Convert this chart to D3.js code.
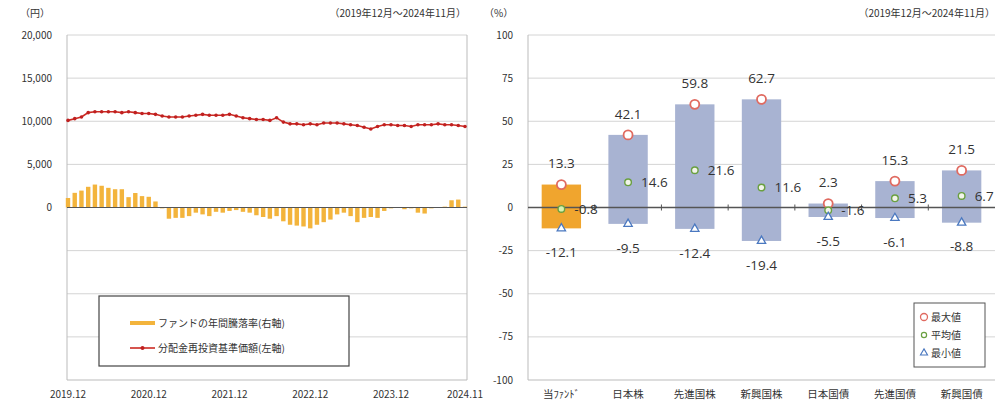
<!DOCTYPE html>
<html>
<head>
<meta charset="utf-8">
<script src="https://cdn.jsdelivr.net/npm/d3@7"></script>
<style>
  body { margin: 0; background: #fff; }
  svg text { font-family: "Noto Sans CJK JP", "Noto Sans", sans-serif; fill: #333; }
</style>
</head>
<body>
<svg id="chart" width="996" height="408"></svg>
<script>
// left chart: NAV (yen, left axis) and annual return (% , hidden right axis)
const navValues = [
  10100, 10300, 10500, 11000, 11100, 11100, 11100, 11100, 11000, 11100,
  11000, 10900, 10900, 10800, 10600, 10500, 10500, 10500, 10600, 10700,
  10800, 10700, 10700, 10700, 10800, 10600, 10400, 10300, 10200, 10200,
  10100, 10400, 9900, 9700, 9700, 9600, 9700, 9600, 9800, 9800,
  9800, 9700, 9600, 9500, 9300, 9100, 9400, 9600, 9600, 9500,
  9500, 9400, 9600, 9600, 9600, 9700, 9600, 9600, 9500, 9400
];
const annualReturn = [
  5.5, 8.5, 9.8, 12.0, 13.3, 12.6, 11.4, 10.6, 10.6, 6.0,
  8.4, 6.6, 6.2, 3.5, -0.5, -6.5, -6.0, -6.0, -5.0, -3.0,
  -4.0, -5.0, -2.5, -3.0, -2.0, -1.5, -2.5, -3.0, -4.5, -5.5,
  -6.5, -5.0, -8.0, -10.0, -10.5, -11.0, -12.1, -10.0, -8.5, -7.0,
  -4.0, -3.0, -5.0, -8.5, -6.0, -5.5, -6.0, -2.0, -0.5, 0.3,
  -1.0, -0.5, -3.0, -3.5, -0.5, 0.2, 0.5, 4.2, 4.6, 0.5
];
const monthLabels = ["2019.12", "2020.12", "2021.12", "2022.12", "2023.12", "2024.11"];
const navTicks = [-20000, -15000, -10000, -5000, 0, 5000, 10000, 15000, 20000];

// right chart: range of annual returns by asset class
const assetClasses = ["当ﾌｧﾝﾄﾞ", "日本株", "先進国株", "新興国株", "日本国債", "先進国債", "新興国債"];
const maxValues = [13.3, 42.1, 59.8, 62.7, 2.3, 15.3, 21.5];
const meanValues = [-0.8, 14.6, 21.6, 11.6, -1.6, 5.3, 6.7];
const minValues = [-12.1, -9.5, -12.4, -19.4, -5.5, -6.1, -8.8];
const pctTicks = [-100, -75, -50, -25, 0, 25, 50, 75, 100];

const svg = d3.select("#chart");
const gridColor = "#d4d4d4";

const months = d3.timeMonth.range(new Date(2019, 11, 1), new Date(2024, 11, 1));
const fmtMonth = d3.timeFormat("%Y.%m");

// ---------- left chart ----------
const xL = d3.scalePoint().domain(months).range([68, 465]);
const yNav = d3.scaleLinear().domain([-20000, 20000]).range([380, 35]);
const yRet = d3.scaleLinear().domain([-100, 100]).range([380, 35]);

const left = svg.append("g");

left.selectAll("line.grid")
  .data(navTicks)
  .join("line")
  .attr("class", "grid")
  .attr("x1", 67).attr("x2", 467)
  .attr("y1", d => yNav(d)).attr("y2", d => yNav(d))
  .attr("stroke", d => d === -20000 ? "#bbb" : gridColor);

left.append("line")
  .attr("x1", 67).attr("x2", 67).attr("y1", yNav(20000)).attr("y2", yNav(-20000))
  .attr("stroke", "#bbb");
left.append("line")
  .attr("x1", 467).attr("x2", 467).attr("y1", yNav(20000)).attr("y2", yNav(-20000))
  .attr("stroke", "#bbb");

left.selectAll("text.ytick")
  .data(navTicks.filter(d => d >= 0))
  .join("text")
  .attr("class", "ytick")
  .attr("x", 52).attr("y", d => yNav(d))
  .attr("dy", "0.35em")
  .attr("text-anchor", "end")
  .attr("font-size", 10)
  .text(d3.format(","));

// bars (right axis, hidden)
left.selectAll("rect.ret")
  .data(annualReturn)
  .join("rect")
  .attr("class", "ret")
  .attr("x", (d, i) => xL(months[i]) - 2.2)
  .attr("width", 4.4)
  .attr("y", d => yRet(Math.max(0, d)))
  .attr("height", d => Math.abs(yRet(d) - yRet(0)))
  .attr("fill", "#F3B43C");

left.append("line")
  .attr("x1", 67).attr("x2", 467)
  .attr("y1", yNav(0)).attr("y2", yNav(0))
  .attr("stroke", "#555").attr("stroke-width", 1.2);

const navLine = d3.line()
  .x((d, i) => xL(months[i]))
  .y(d => yNav(d));
left.append("path")
  .datum(navValues)
  .attr("d", navLine)
  .attr("fill", "none")
  .attr("stroke", "#CC2A22")
  .attr("stroke-width", 1.6);
left.selectAll("circle.nav")
  .data(navValues)
  .join("circle")
  .attr("class", "nav")
  .attr("cx", (d, i) => xL(months[i]))
  .attr("cy", d => yNav(d))
  .attr("r", 1.8)
  .attr("fill", "#C02020");

left.selectAll("text.xtick")
  .data(monthLabels)
  .join("text")
  .attr("class", "xtick")
  .attr("x", d => xL(months.find(m => fmtMonth(m) === d)))
  .attr("y", 398)
  .attr("text-anchor", "middle")
  .attr("font-size", 10)
  .text(d => d);

left.append("text").attr("x", 20).attr("y", 17).attr("font-size", 10).text("（円）");
left.append("text").attr("x", 466).attr("y", 17).attr("font-size", 10)
  .attr("text-anchor", "end").text("（2019年12月～2024年11月）");

// left legend
const legL = left.append("g");
legL.append("rect")
  .attr("x", 99).attr("y", 296).attr("width", 250).attr("height", 70)
  .attr("fill", "#fff").attr("stroke", "#444").attr("stroke-width", 1.2);
legL.append("rect")
  .attr("x", 130).attr("y", 321).attr("width", 25).attr("height", 4)
  .attr("fill", "#F3B43C");
legL.append("text").attr("x", 158).attr("y", 323).attr("dy", "0.35em")
  .attr("font-size", 10).text("ファンドの年間騰落率(右軸)");
legL.append("line")
  .attr("x1", 130).attr("x2", 155).attr("y1", 348).attr("y2", 348)
  .attr("stroke", "#CC2A22").attr("stroke-width", 1.6);
legL.append("circle").attr("cx", 142.5).attr("cy", 348).attr("r", 2).attr("fill", "#C02020");
legL.append("text").attr("x", 158).attr("y", 348).attr("dy", "0.35em")
  .attr("font-size", 10).text("分配金再投資基準価額(左軸)");

// ---------- right chart ----------
const xR = d3.scaleBand().domain(assetClasses).range([528, 995]).paddingInner(0.41).paddingOuter(0.205);
const yP = d3.scaleLinear().domain([-100, 100]).range([380, 35]);

const right = svg.append("g");

right.selectAll("line.grid")
  .data(pctTicks.filter(d => d !== 0))
  .join("line")
  .attr("class", "grid")
  .attr("x1", 528).attr("x2", 995)
  .attr("y1", d => yP(d)).attr("y2", d => yP(d))
  .attr("stroke", d => d === -100 ? "#bbb" : gridColor);
right.append("line")
  .attr("x1", 528).attr("x2", 528).attr("y1", yP(100)).attr("y2", yP(-100))
  .attr("stroke", "#bbb");

right.selectAll("text.ytick")
  .data(pctTicks)
  .join("text")
  .attr("class", "ytick")
  .attr("x", 513).attr("y", d => yP(d))
  .attr("dy", "0.35em")
  .attr("text-anchor", "end")
  .attr("font-size", 10)
  .text(d => d);

right.selectAll("rect.range")
  .data(assetClasses)
  .join("rect")
  .attr("class", "range")
  .attr("x", d => xR(d))
  .attr("width", xR.bandwidth())
  .attr("y", (d, i) => yP(maxValues[i]))
  .attr("height", (d, i) => yP(minValues[i]) - yP(maxValues[i]))
  .attr("fill", (d, i) => i === 0 ? "#F0A52E" : "#A8B3D2");

// zero axis with category tick marks
right.append("line")
  .attr("x1", 528).attr("x2", 995)
  .attr("y1", yP(0)).attr("y2", yP(0))
  .attr("stroke", "#555").attr("stroke-width", 1.4);
const step = xR.step();
right.selectAll("line.ctick")
  .data(assetClasses.slice(1))
  .join("line")
  .attr("class", "ctick")
  .attr("x1", d => xR(d) - (step - xR.bandwidth()) / 2)
  .attr("x2", d => xR(d) - (step - xR.bandwidth()) / 2)
  .attr("y1", yP(0) - 3).attr("y2", yP(0) + 3)
  .attr("stroke", "#555");

const cx = d => xR(d) + xR.bandwidth() / 2;

// markers
right.selectAll("circle.max")
  .data(assetClasses)
  .join("circle")
  .attr("class", "max")
  .attr("cx", cx)
  .attr("cy", (d, i) => yP(maxValues[i]))
  .attr("r", 4.5)
  .attr("fill", "#fff")
  .attr("stroke", "#E06A60")
  .attr("stroke-width", 1.8);
right.selectAll("circle.mean")
  .data(assetClasses)
  .join("circle")
  .attr("class", "mean")
  .attr("cx", cx)
  .attr("cy", (d, i) => yP(meanValues[i]))
  .attr("r", 3.3)
  .attr("fill", (d, i) => i === 0 ? "#d8f0b0" : "#f2f4ea")
  .attr("stroke", "#6AA040")
  .attr("stroke-width", 1.4);
const tri = d3.symbol().type(d3.symbolTriangle).size(30);
right.selectAll("path.min")
  .data(assetClasses)
  .join("path")
  .attr("class", "min")
  .attr("transform", (d, i) => `translate(${cx(d)},${yP(minValues[i])})`)
  .attr("d", tri)
  .attr("fill", "#fff")
  .attr("stroke", "#4A78C0")
  .attr("stroke-width", 1.3);

// value labels
const lblFont = "'Open Sans', 'Noto Sans', sans-serif";
right.selectAll("text.maxl")
  .data(assetClasses)
  .join("text")
  .attr("class", "maxl")
  .attr("x", cx)
  .attr("y", (d, i) => yP(maxValues[i]) - 21)
  .attr("dy", "0.35em")
  .attr("text-anchor", "middle")
  .attr("font-size", 13.5)
  .style("font-family", lblFont)
  .text((d, i) => maxValues[i].toFixed(1));
right.selectAll("text.meanl")
  .data(assetClasses)
  .join("text")
  .attr("class", "meanl")
  .attr("x", d => cx(d) + 13)
  .attr("y", (d, i) => yP(meanValues[i]))
  .attr("dy", "0.35em")
  .attr("font-size", 13.5)
  .style("font-family", lblFont)
  .text((d, i) => meanValues[i].toFixed(1));
right.selectAll("text.minl")
  .data(assetClasses)
  .join("text")
  .attr("class", "minl")
  .attr("x", cx)
  .attr("y", (d, i) => yP(minValues[i]) + 24)
  .attr("dy", "0.35em")
  .attr("text-anchor", "middle")
  .attr("font-size", 13.5)
  .style("font-family", lblFont)
  .text((d, i) => minValues[i].toFixed(1));

right.selectAll("text.xtick")
  .data(assetClasses)
  .join("text")
  .attr("class", "xtick")
  .attr("x", cx)
  .attr("y", 398)
  .attr("text-anchor", "middle")
  .attr("font-size", 10.5)
  .text(d => d);

right.append("text").attr("x", 484).attr("y", 17).attr("font-size", 10).text("（%）");
right.append("text").attr("x", 995).attr("y", 17).attr("font-size", 10)
  .attr("text-anchor", "end").text("（2019年12月～2024年11月）");

// right legend
const legR = right.append("g");
legR.append("rect")
  .attr("x", 914).attr("y", 303).attr("width", 71).attr("height", 64)
  .attr("fill", "#fff").attr("stroke", "#555").attr("stroke-width", 1);
legR.append("circle").attr("cx", 924).attr("cy", 317).attr("r", 3.5)
  .attr("fill", "#fff").attr("stroke", "#E06A60").attr("stroke-width", 1.3);
legR.append("text").attr("x", 931).attr("y", 317).attr("dy", "0.35em").attr("font-size", 10).text("最大値");
legR.append("circle").attr("cx", 924).attr("cy", 335).attr("r", 2.6)
  .attr("fill", "#fff").attr("stroke", "#6AA040").attr("stroke-width", 1.2);
legR.append("text").attr("x", 931).attr("y", 335).attr("dy", "0.35em").attr("font-size", 10).text("平均値");
legR.append("path")
  .attr("transform", "translate(924,353)")
  .attr("d", d3.symbol().type(d3.symbolTriangle).size(22))
  .attr("fill", "#fff").attr("stroke", "#4A78C0").attr("stroke-width", 1.1);
legR.append("text").attr("x", 931).attr("y", 353).attr("dy", "0.35em").attr("font-size", 10).text("最小値");
</script>
</body>
</html>
